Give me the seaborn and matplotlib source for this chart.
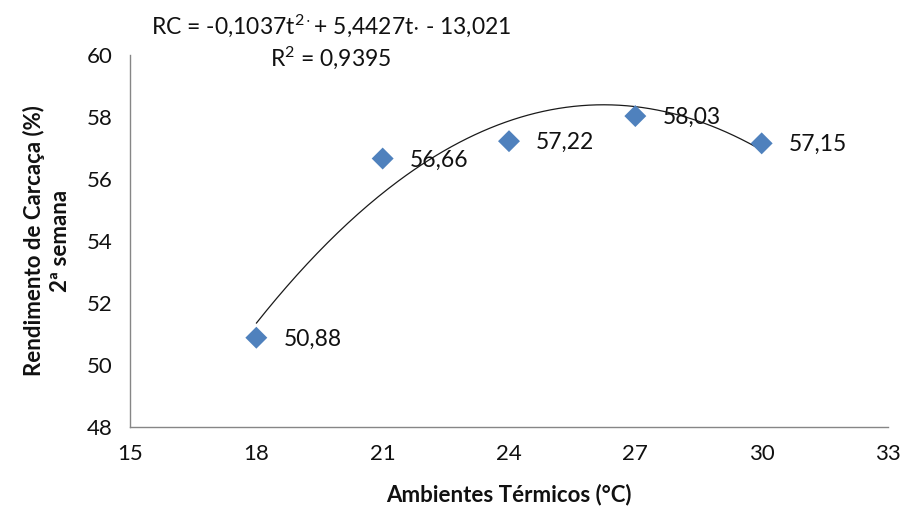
import numpy as np
import pandas as pd
import matplotlib
matplotlib.use("Agg")
import matplotlib.pyplot as plt
import seaborn as sns

# Carcass yield (2nd week) by thermal environment
temperatures = [18, 21, 24, 27, 30]
yields = [50.88, 56.66, 57.22, 58.03, 57.15]
value_labels = ["50,88", "56,66", "57,22", "58,03", "57,15"]

# Quadratic regression coefficients (RC = a*t^2 + b*t + c)
coef_a = -0.1037
coef_b = 5.4427
coef_c = -13.021
equation_text = r"RC = -0,1037t$^{2\cdot}$+ 5,4427t$\cdot$ - 13,021"
r2_text = r"R$^{2}$ = 0,9395"

x_ticks = [15, 18, 21, 24, 27, 30, 33]
y_ticks = [48, 50, 52, 54, 56, 58, 60]

sns.set_theme(style="white")
plt.rcParams["font.family"] = ["Lato", "DejaVu Sans"]
plt.rcParams["mathtext.fontset"] = "custom"
plt.rcParams["mathtext.rm"] = "Lato"
plt.rcParams["mathtext.it"] = "Lato"
plt.rcParams["mathtext.default"] = "regular"

W, H = 904, 517
fig = plt.figure(figsize=(W / 100, H / 100), dpi=100)
ax = fig.add_axes([130 / W, 1 - 427 / H, 758 / W, 372 / H])

points = pd.DataFrame({"t": temperatures, "rc": yields})
t_fit = np.linspace(min(temperatures), max(temperatures), 200)
fit = pd.DataFrame({"t": t_fit, "rc": coef_a * t_fit ** 2 + coef_b * t_fit + coef_c})

sns.lineplot(data=fit, x="t", y="rc", ax=ax, color="#1a1a1a", linewidth=0.9, zorder=2)
sns.scatterplot(data=points, x="t", y="rc", ax=ax, marker="D", s=125,
                color="#4F81BD", edgecolor="none", linewidth=0, zorder=3)

for t, v, lab in zip(temperatures, yields, value_labels):
    ax.annotate(lab, xy=(t, v), xytext=(19.5, -1), textcoords="offset points",
                ha="left", va="center", fontsize=16.5, color="#111111", zorder=4)

ax.set_xlim(15, 33)
ax.set_ylim(48, 60)
ax.set_xticks(x_ticks)
ax.set_yticks(y_ticks)
ax.tick_params(axis="both", which="major", direction="out", length=5.5, width=1,
               color="#868686", labelsize=16, labelcolor="#111111", pad=7)

for side in ("top", "right"):
    ax.spines[side].set_visible(False)
for side in ("left", "bottom"):
    ax.spines[side].set_color("#868686")
    ax.spines[side].set_linewidth(1)

ax.set_xlabel("Ambientes Térmicos (°C)", fontsize=16, fontweight="bold",
              color="#111111", labelpad=14)
ax.set_ylabel("Rendimento de Carcaça (%)\n2ª semana", fontsize=16,
              fontweight="bold", color="#111111", labelpad=11, linespacing=1.35)

fig.text(331 / W, 1 - 26 / H, equation_text, ha="center", va="center",
         fontsize=16.5, color="#111111")
fig.text(331 / W, 1 - 58 / H, r2_text, ha="center", va="center",
         fontsize=16.5, color="#111111")

fig.savefig("out.png", dpi=100, facecolor="white")
